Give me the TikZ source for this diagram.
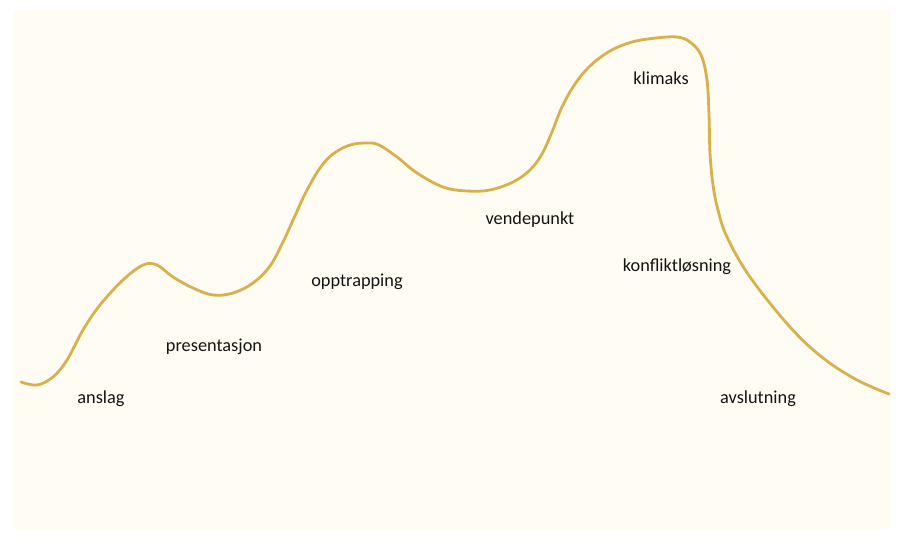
\documentclass[tikz,border=0pt]{standalone}
\usepackage{fontspec}
\setmainfont{Carlito}
\definecolor{bgcream}{HTML}{FFFCF4}
\definecolor{curvegold}{HTML}{D8B14C}
\definecolor{txt}{HTML}{141414}
\begin{document}
\begin{tikzpicture}[x=1pt,y=-1pt,
  lbl/.style={font=\fontsize{18.3}{21}\selectfont, text=txt, inner sep=0pt, anchor=center},
  arc/.style={draw=curvegold, line width=2.8pt, line cap=round, line join=round}]
\useasboundingbox (0,0) rectangle (905,542);
\fill[white] (0,0) rectangle (905,542);
\fill[bgcream] (13,10) rectangle (891,529);
\draw[arc] plot[smooth, tension=0.6] coordinates {
 (21,382) (37,385) (53,377) (67,360) (83,330) (100,305) (123,280) (143,265)
 (157,265) (173,277) (193,288) (213,295) (233,293) (253,283) (270,266) (283,242)
 (294,218) (306,192) (320,168) (333,154) (350,145) (367,143) (379,145) (397,157) (417,173)
 (443,187) (467,191) (490,190) (513,182) (530,170) (542,154) (552,132) (562,107)
 (575,84) (590,66) (610,51) (632,42) (656,38) (677,37) (690,42) (701,55) (707,80) (709,115)
 (710,153) (713,185) (718,210) (727,237) (750,277) (790,327) (823,358) (857,380) (889,394)};
\node[lbl] (anslag) at (101,399) {anslag};
\node[lbl] (pres) at (214,347) {presentasjon};
\node[lbl] (opp) at (357,282) {opptrapping};
\node[lbl] (vende) at (530,220) {vendepunkt};
\node[lbl] (klim) at (661,78) {klimaks};
\node[lbl] (konf) at (677,267) {konfliktløsning};
\node[lbl] (avsl) at (758,399) {avslutning};
\end{tikzpicture}
\end{document}
